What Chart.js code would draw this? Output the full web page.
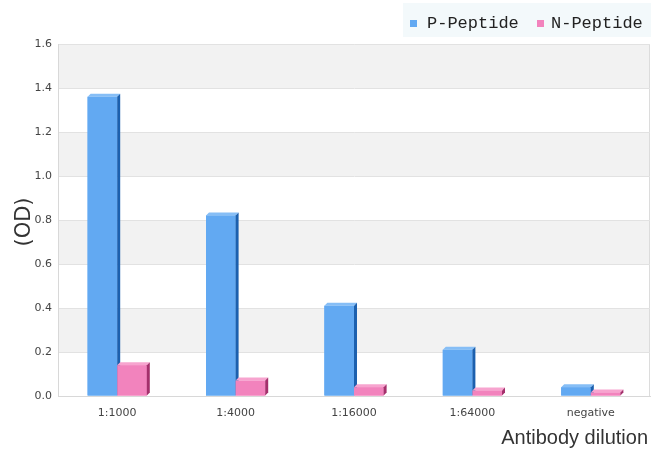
<!DOCTYPE html>
<html>
<head>
<meta charset="utf-8">
<script src="https://cdn.jsdelivr.net/npm/chart.js@4"></script>
<style>
  html, body { margin: 0; padding: 0; background: #fff; }
  #wrap { width: 651px; height: 451px; }
</style>
</head>
<body>
<div id="wrap"><canvas id="chart" width="651" height="451"></canvas></div>
<script>
const categories = ['1:1000', '1:4000', '1:16000', '1:64000', 'negative'];
const pPeptide = [1.36, 0.82, 0.41, 0.21, 0.04];
const nPeptide = [0.14, 0.07, 0.04, 0.025, 0.016];
const yTicks = [0, 0.2, 0.4, 0.6, 0.8, 1.0, 1.2, 1.4, 1.6];

const blue = { front: '#62a9f2', side: '#1c60ae', top: '#86bef6' };
const pink = { front: '#f283bd', side: '#a4306c', top: '#f7a4cf' };

// alternating background bands + right frame line
const bands = {
  id: 'bands',
  beforeDraw(chart) {
    const { ctx, chartArea: a, scales: { y } } = chart;
    ctx.save();
    for (let i = 0; i < yTicks.length - 1; i++) {
      if (i % 2 === 1) {
        const y0 = y.getPixelForValue(yTicks[i]);
        const y1 = y.getPixelForValue(yTicks[i + 1]);
        ctx.fillStyle = '#f2f2f2';
        ctx.fillRect(a.left, y1, a.right - a.left, y0 - y1);
      }
    }
    ctx.strokeStyle = '#dcdcdc';
    ctx.lineWidth = 1;
    ctx.beginPath();
    ctx.moveTo(a.right - 0.5, a.top);
    ctx.lineTo(a.right - 0.5, a.bottom);
    ctx.stroke();
    ctx.restore();
  }
};

function face(ctx, pts, color) {
  ctx.beginPath();
  ctx.moveTo(pts[0][0], pts[0][1]);
  for (let i = 1; i < pts.length; i++) ctx.lineTo(pts[i][0], pts[i][1]);
  ctx.closePath();
  ctx.fillStyle = color;
  ctx.fill();
}

// fake 3D extrusion on each bar
const bars3d = {
  id: 'bars3d',
  afterDatasetsDraw(chart) {
    const ctx = chart.ctx;
    const dx = 3, dy = 3;
    const metas = [chart.getDatasetMeta(0), chart.getDatasetMeta(1)];
    const cols = [blue, pink];
    ctx.save();
    for (let i = 0; i < categories.length; i++) {
      metas.forEach((meta, k) => {
        const bar = meta.data[i];
        const l = bar.x - bar.width / 2, r = bar.x + bar.width / 2;
        const t = bar.y, b = bar.base;
        face(ctx, [[l, t], [r, t], [r, b], [l, b]], cols[k].front);
        face(ctx, [[l, t], [l + dx, t - dy], [r + dx, t - dy], [r, t]], cols[k].top);
        face(ctx, [[r, t], [r + dx, t - dy], [r + dx, b - dy], [r, b]], cols[k].side);
      });
    }
    ctx.restore();
  }
};

const titles = {
  id: 'titles',
  afterDraw(chart) {
    const ctx = chart.ctx;
    ctx.save();
    // legend
    ctx.fillStyle = '#f3f9fb';
    ctx.fillRect(403, 3, 248, 34);
    ctx.font = '17px "Liberation Mono", monospace';
    ctx.textBaseline = 'alphabetic';
    ctx.textAlign = 'left';
    ctx.fillStyle = blue.front;
    ctx.fillRect(410, 20, 7, 7);
    ctx.fillStyle = '#222';
    ctx.fillText('P-Peptide', 427, 28);
    ctx.fillStyle = pink.front;
    ctx.fillRect(537, 20, 7, 7);
    ctx.fillStyle = '#222';
    ctx.fillText('N-Peptide', 551, 28);
    // axis titles
    ctx.font = '20px "Liberation Sans Narrow", "Liberation Sans", sans-serif';
    ctx.fillStyle = '#333';
    ctx.textAlign = 'right';
    ctx.fillText('Antibody dilution', 648, 444);
    ctx.translate(30, 222);
    ctx.rotate(-Math.PI / 2);
    ctx.textAlign = 'center';
    ctx.font = '21px "DejaVu Sans", sans-serif';
    ctx.fillText('(OD)', 0, 0);
    ctx.restore();
  }
};

new Chart(document.getElementById('chart'), {
  type: 'bar',
  data: {
    labels: categories,
    datasets: [
      { label: 'P-Peptide', data: pPeptide, backgroundColor: blue.front, borderWidth: 0 },
      { label: 'N-Peptide', data: nPeptide, backgroundColor: pink.front, borderWidth: 0 }
    ]
  },
  options: {
    responsive: false,
    animation: false,
    events: [],
    layout: { padding: { top: 44, right: 1, left: 0, bottom: 0 } },
    datasets: { bar: { categoryPercentage: 0.5, barPercentage: 1.0 } },
    plugins: { legend: { display: false }, tooltip: { enabled: false } },
    scales: {
      x: {
        afterFit: s => { s.height = 55; },
        grid: { display: false },
        border: { color: '#d8d8d8' },
        ticks: { color: '#444', font: { family: 'DejaVu Sans', size: 11 }, padding: 3 }
      },
      y: {
        min: 0, max: 1.6,
        afterFit: s => { s.width = 58; },
        afterBuildTicks: s => { s.ticks = yTicks.map(v => ({ value: v })); },
        grid: { color: '#e2e2e2', drawTicks: false },
        border: { color: '#d8d8d8' },
        ticks: { color: '#444', font: { family: 'DejaVu Sans', size: 11 }, padding: 6,
                 callback: v => v.toFixed(1) }
      }
    }
  },
  plugins: [bands, bars3d, titles]
});
</script>
</body>
</html>
